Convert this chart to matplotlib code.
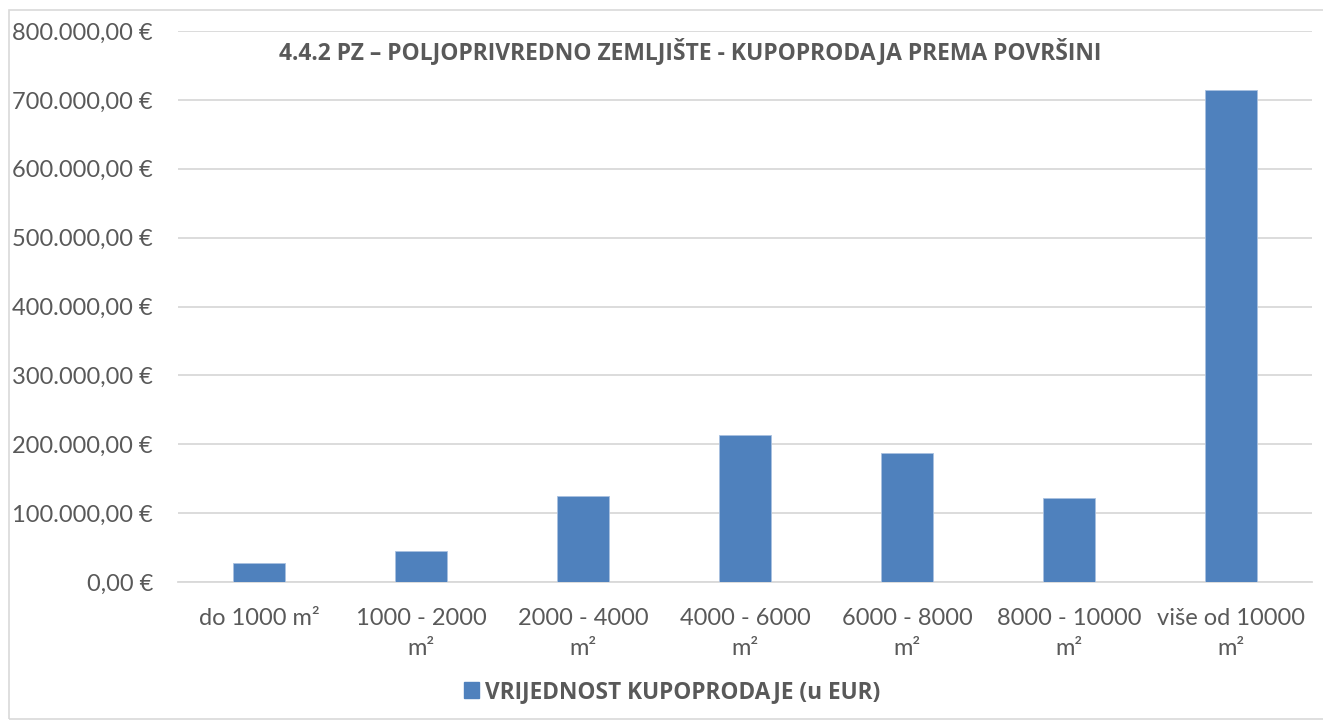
import matplotlib
matplotlib.use("Agg")
from matplotlib import pyplot as plt
from matplotlib.patches import Rectangle, Patch
from matplotlib.ticker import FuncFormatter

# data
categories = ["do 1000 m²", "1000 - 2000\nm²", "2000 - 4000\nm²", "4000 - 6000\nm²",
              "6000 - 8000\nm²", "8000 - 10000\nm²", "više od 10000\nm²"]
values = [28200, 44700, 125200, 214100, 186900, 121800, 714600]
series_name = "VRIJEDNOST KUPOPRODAJE (u EUR)"
title = "4.4.2 PZ – POLJOPRIVREDNO ZEMLJIŠTE - KUPOPRODAJA PREMA POVRŠINI"

plt.rcParams['font.family'] = ['Lato', 'DejaVu Sans']
bold_family = ['Open Sans', 'DejaVu Sans']
text_col = "#595959"
bar_col = "#4F81BD"

W, H = 1323, 726
fig = plt.figure(figsize=(W / 100, H / 100), dpi=100)
ax = fig.add_axes([178 / W, 1 - 582 / H, (1312 - 178) / W, (582 - 31) / H])

x = range(len(categories))
ax.bar(x, values, width=0.315, color=bar_col, edgecolor="#A9C1E0", linewidth=0.6, zorder=3)

ax.set_xlim(-0.5, len(categories) - 0.5)
ax.set_ylim(0, 800000)
ax.set_yticks(range(0, 800001, 100000))


def euro(v, pos):
    s = f"{v:,.2f}".replace(",", " ").replace(".", ",").replace(" ", ".")
    return s + " €"


ax.yaxis.set_major_formatter(FuncFormatter(euro))
ax.grid(axis="y", color="#D9D9D9", linewidth=1.3, zorder=0)
ax.set_axisbelow(True)
for s in ["top", "right", "left"]:
    ax.spines[s].set_visible(False)
ax.spines["bottom"].set_color("#D9D9D9")
ax.spines["bottom"].set_linewidth(1.3)

ax.set_xticks(list(x))
ax.set_xticklabels(categories, fontsize=17, color=text_col, linespacing=1.5, va="top")
ax.tick_params(axis="x", length=0, pad=19)
ax.tick_params(axis="y", length=0, pad=18, labelsize=17, labelcolor=text_col)

fig.text(690 / W, 1 - 52 / H, title, ha="center", va="center", family=bold_family,
         fontsize=16.5, fontweight="bold", color=text_col)

handle = Patch(facecolor=bar_col, edgecolor=bar_col)
fig.legend([handle], [series_name], loc="center", bbox_to_anchor=(672 / W, 1 - 692 / H),
           frameon=False, handlelength=0.65, handleheight=0.65, handletextpad=0.25,
           prop={"size": 16.3, "weight": "bold", "family": bold_family}, labelcolor=text_col)

# thin outer chart border
fig.patches.append(Rectangle((9 / W, 1 - 719 / H), (W + 5 - 9) / W, (719 - 10) / H,
                             transform=fig.transFigure, fill=False,
                             edgecolor="#D9D9D9", linewidth=1.2))

fig.savefig("out.png", dpi=100)
